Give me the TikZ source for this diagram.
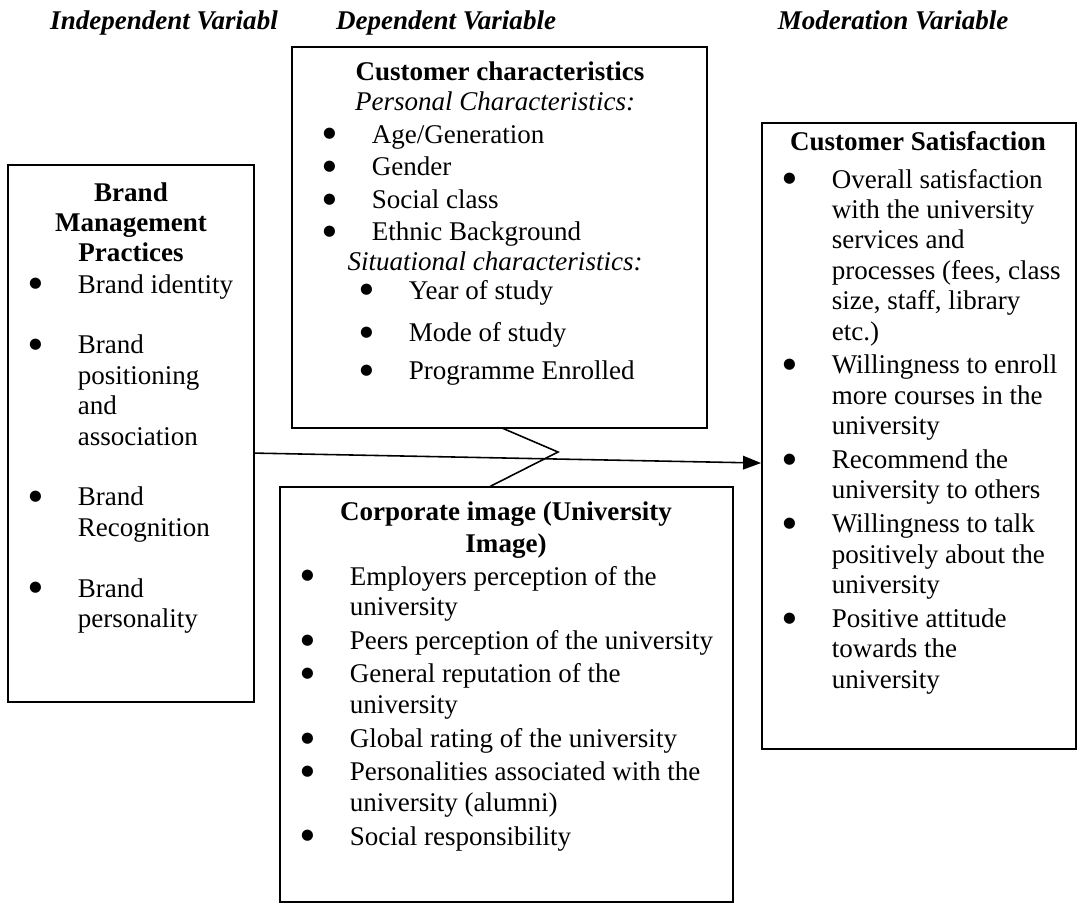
\documentclass[tikz,border=0pt]{standalone}
\usepackage{fontspec}
\setmainfont{Liberation Serif}
\newfontfamily\dotfont{DejaVu Sans}
\usetikzlibrary{arrows.meta,fit}
\newcommand{\bul}{\makebox[21pt][l]{\hspace*{-0.6pt}\raisebox{2.3pt}{\dotfont\fontsize{6.5}{6.5}\selectfont ●}}}
\newcommand{\cnt}{\hspace*{21pt}}

\begin{document}
\begin{tikzpicture}[x=0.444pt,y=-0.444pt,
		every node/.style={inner sep=0pt,font=\fontsize{12}{13.5}\selectfont},
		box/.style={draw,line width=0.8pt,fit={#1}},
		hd/.style={anchor=base,font=\fontsize{12}{13.5}\selectfont\bfseries\itshape},
		lst/.style={anchor=base west},
		conn/.style={line width=0.7pt},
		arr/.style={conn,-{Triangle[length=8pt,width=6pt]}}]
			%%%%% START %%%%%
			\useasboundingbox (0,0) rectangle (1078,904);
			
			\node[hd] (hind) at (164,29) {Independent Variabl};
			\node[hd] (hdep) at (446,29) {Dependent Variable};
			\node[hd] (hmod) at (893,29) {Moderation Variable};
			
			% boxes
			\node[box={(8,165) (254,702)}] (bmp) {};
			\node[box={(292,47) (707,428)}] (cch) {};
			\node[box={(280,487) (733,902)}] (cim) {};
			\node[box={(762,123) (1076,749)}] (csat) {};
			
			% brand management practices
			\node[anchor=base] (bmpt) at (131,201) {\begin{tabular}[t]{@{}c@{}}\bfseries Brand\\ \bfseries Management\\ \bfseries Practices\end{tabular}};
			\node[lst] (bmpl) at (30,293) {\begin{tabular}[t]{@{}l@{}}
				\bul Brand identity\\ \\
				\bul Brand\\ \cnt positioning\\ \cnt and\\ \cnt association\\ \\
				\bul Brand\\ \cnt Recognition\\ \\
				\bul Brand\\ \cnt personality
			\end{tabular}};
			
			% customer characteristics
			\node[anchor=base] (ccht) at (500,80) {\textbf{Customer characteristics}};
			\node[anchor=base] (cchp) at (495,110) {\textit{Personal Characteristics:}};
			\node[lst] (cchl) at (324,143) {\begin{tabular}[t]{@{}l@{}}
				\bul Age/Generation\\[1pt] \bul Gender\\[1pt] \bul Social class\\[1pt] \bul Ethnic Background
			\end{tabular}};
			\node[anchor=base] (cchs) at (495,270) {\textit{Situational characteristics:}};
			\node[lst] (cchm) at (361,299) {\begin{tabular}[t]{@{}l@{}}
				\bul Year of study\\[5.5pt] \bul Mode of study\\[3.4pt] \bul Programme Enrolled
			\end{tabular}};
			
			% corporate image
			\node[anchor=base] (cimt) at (506,520) {\begin{tabular}[t]{@{}c@{}}\bfseries Corporate image (University\\[0.7pt] \bfseries Image)\end{tabular}};
			\node[lst] (ciml) at (302,585) {\begin{tabular}[t]{@{}l@{}}
				\bul Employers perception of the\\ \cnt university\\[1.5pt]
				\bul Peers perception of the university\\[1.5pt]
				\bul General reputation of the\\ \cnt university\\[1.5pt]
				\bul Global rating of the university\\[1.5pt]
				\bul Personalities associated with the\\ \cnt university (alumni)\\[1.5pt]
				\bul Social responsibility
			\end{tabular}};
			
			% customer satisfaction
			\node[anchor=base] (csatt) at (918,150) {\textbf{Customer Satisfaction}};
			\node[lst] (csatl) at (784,188) {\begin{tabular}[t]{@{}l@{}}
				\bul Overall satisfaction\\ \cnt with the university\\ \cnt services and\\ \cnt processes (fees, class\\ \cnt size, staff, library\\ \cnt etc.)\\[1.5pt]
				\bul Willingness to enroll\\ \cnt more courses in the\\ \cnt university\\[1.5pt]
				\bul Recommend the\\ \cnt university to others\\[1.5pt]
				\bul Willingness to talk\\ \cnt positively about the\\ \cnt university\\[1.5pt]
				\bul Positive attitude\\ \cnt towards the\\ \cnt university
			\end{tabular}};
			
			% connectors
			\coordinate (zs) at (502,428);
			\coordinate (zz) at (558,452);
			\coordinate (ze) at (489,487);
			\draw[conn] (zs) -- (zz) -- (ze);
			\draw[arr] ([yshift=-8.7pt]bmp.east) -- ([yshift=-12pt]csat.west);
			%%%%% END %%%%%
\end{tikzpicture}
\end{document}
